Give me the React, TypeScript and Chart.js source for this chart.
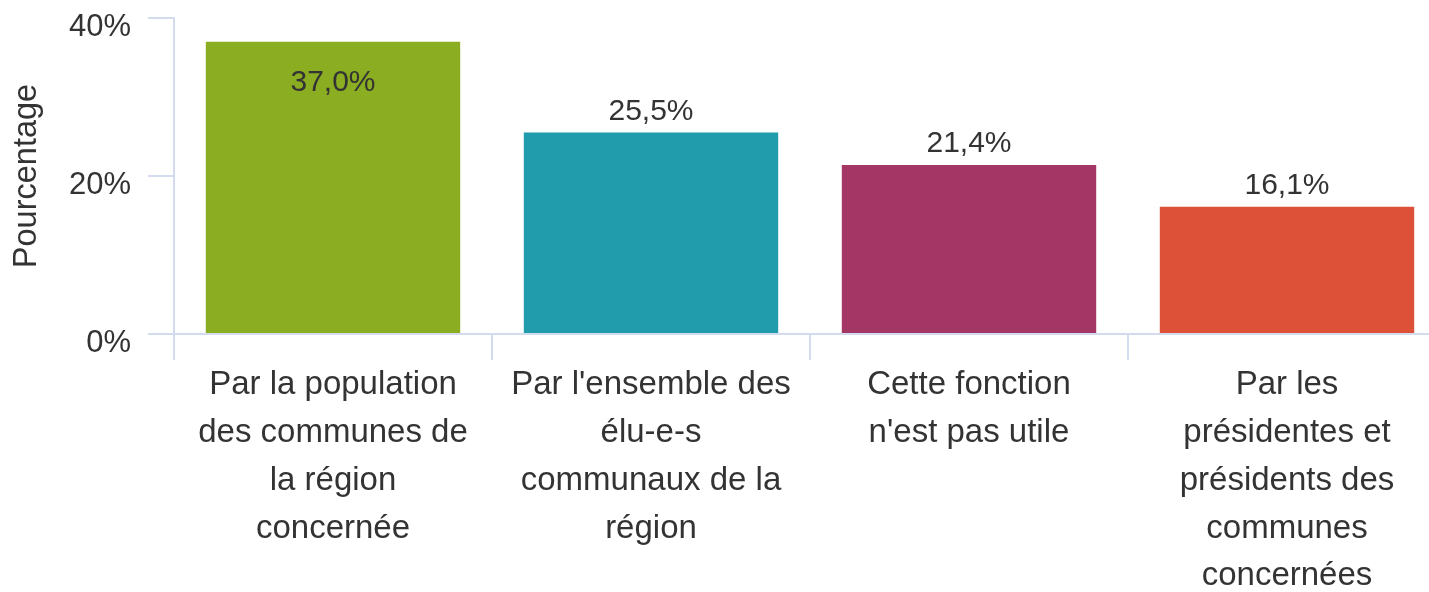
import React, { useEffect, useRef } from "react";
import { Chart, registerables } from "chart.js";

Chart.register(...registerables);

const categories: string[][] = [
  ["Par la population", "des communes de", "la région", "concernée"],
  ["Par l'ensemble des", "élu-e-s", "communaux de la", "région"],
  ["Cette fonction", "n'est pas utile"],
  ["Par les", "présidentes et", "présidents des", "communes", "concernées"],
];
const values: number[] = [37.0, 25.5, 21.4, 16.1];
const barColors: string[] = ["#8BAD22", "#219CAD", "#A33665", "#DD5138"];
const yTicks: number[] = [0, 20, 40];
const yTitle = "Pourcentage";

const FONT = '"Liberation Sans", Arial, sans-serif';
const GRID = "#d3dbee";
const TEXT = "#333333";

const dataLabelPlugin = {
  id: "dataLabels",
  afterDatasetsDraw(chart: any) {
    const ctx = chart.ctx;
    const meta = chart.getDatasetMeta(0);
    const ds = chart.data.datasets[0];
    ctx.save();
    ctx.font = `30px ${FONT}`;
    ctx.fillStyle = TEXT;
    ctx.textAlign = "center";
    ctx.textBaseline = "middle";
    meta.data.forEach((bar: any, i: number) => {
      const v = ds.data[i] as number;
      const text = v.toFixed(1).replace(".", ",") + "%";
      let y = bar.y - 21;
      if (y - 15 < chart.chartArea.top + 10) y = bar.y + 41;
      ctx.fillText(text, bar.x, y);
    });
    ctx.restore();
  },
};

export default function App() {
  const ref = useRef<HTMLCanvasElement | null>(null);
  useEffect(() => {
    if (!ref.current) return;
    const chart = new Chart(ref.current, {
      type: "bar",
      data: {
        labels: categories,
        datasets: [
          {
            data: values,
            backgroundColor: barColors,
            borderWidth: 0,
            categoryPercentage: 1,
            barPercentage: 0.8,
          },
        ],
      },
      options: {
        responsive: false,
        animation: false,
        layout: { padding: { top: 18, right: 1, left: 0, bottom: 0 } },
        plugins: {
          legend: { display: false },
          tooltip: { enabled: false },
        },
        scales: {
          x: {
            offset: true,
            grid: {
              offset: true,
              drawOnChartArea: false,
              drawTicks: true,
              tickLength: 26,
              color: GRID,
              lineWidth: 2,
            },
            border: { display: true, color: GRID, width: 2 },
            ticks: {
              autoSkip: false,
              maxRotation: 0,
              minRotation: 0,
              padding: 1,
              color: TEXT,
              font: { family: FONT, size: 33, lineHeight: 1.45 },
            },
            afterFit(scale: any) {
              scale.height = 258;
              scale.paddingLeft = 0;
              scale.paddingRight = 0;
            },
          },
          y: {
            min: 0,
            max: 40,
            afterBuildTicks(scale: any) {
              scale.ticks = yTicks.map((v) => ({ value: v }));
            },
            grid: {
              drawOnChartArea: false,
              drawTicks: true,
              tickLength: 26,
              color: GRID,
              lineWidth: 2,
            },
            border: { display: true, color: GRID, width: 2 },
            ticks: {
              padding: 17,
              labelOffset: 9,
              color: TEXT,
              font: { family: FONT, size: 31 },
              callback: (v: any) => `${v}%`,
            },
            title: {
              display: true,
              text: yTitle,
              color: TEXT,
              font: { family: FONT, size: 32.5 },
              padding: { top: 8, bottom: 0 },
            },
            afterFit(scale: any) {
              scale.width = 174;
              scale.paddingTop = 0;
              scale.paddingBottom = 0;
            },
          },
        },
      },
      plugins: [dataLabelPlugin],
    });
    return () => chart.destroy();
  }, []);
  return (
    <div
      style={{
        position: "fixed",
        left: 0,
        top: 0,
        width: 1429,
        height: 592,
        overflow: "hidden",
        background: "#ffffff",
      }}
    >
      <canvas ref={ref} width={1447} height={592} style={{ display: "block" }} />
    </div>
  );
}
